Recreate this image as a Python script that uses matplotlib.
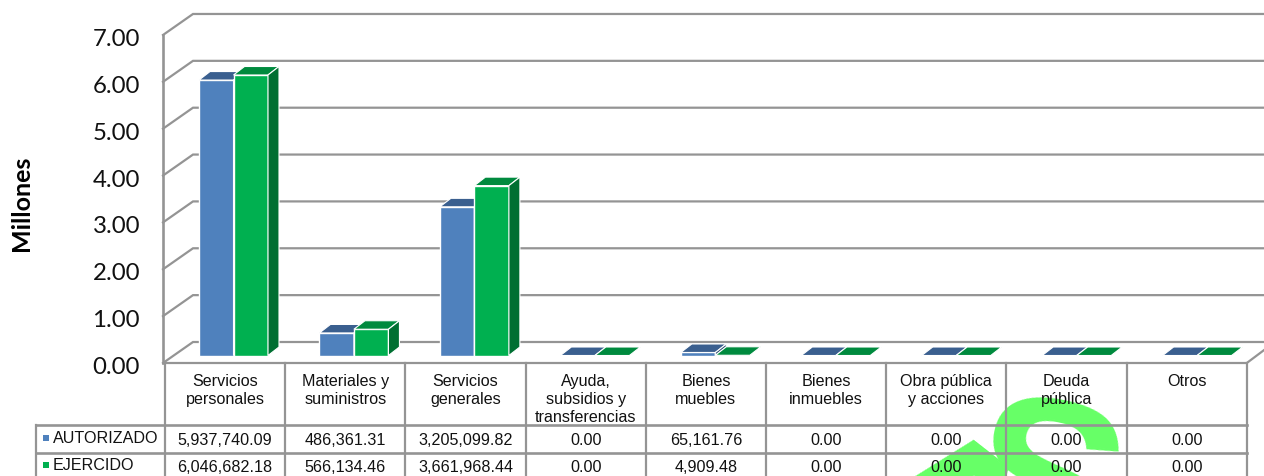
import matplotlib
matplotlib.use("Agg")
import matplotlib.pyplot as plt
from matplotlib.patches import Polygon, Rectangle

categories = ["Servicios\npersonales", "Materiales y\nsuministros", "Servicios\ngenerales",
              "Ayuda,\nsubsidios y\ntransferencias", "Bienes\nmuebles", "Bienes\ninmuebles",
              "Obra pública\ny acciones", "Deuda\npública", "Otros"]
autorizado = [5937740.09, 486361.31, 3205099.82, 0.00, 65161.76, 0.00, 0.00, 0.00, 0.00]
ejercido = [6046682.18, 566134.46, 3661968.44, 0.00, 4909.48, 0.00, 0.00, 0.00, 0.00]
y_ticks = [0, 1, 2, 3, 4, 5, 6, 7]
series_names = ["AUTORIZADO", "EJERCIDO"]

W, H = 1264, 477
PX = 120.2      # px per category
PY = 46.86      # px per million
X0, Y0 = 165, 364
ux, uy = 1 / PX, 1 / PY

fig = plt.figure(figsize=(W / 100, H / 100), dpi=100)
ax = fig.add_axes([0, 0, 1, 1])
ax.set_xlim(-X0 * ux, (W - X0) * ux)
ax.set_ylim(-(H - Y0) * uy, Y0 * uy)
ax.axis("off")

GRID = "#949494"
LW = 1.6
DX, DY = 30 * ux, 21 * uy
xl = -2 * ux

# watermark (behind everything)
wm = dict(color="#66FF66", family="Liberation Sans", fontweight="bold", zorder=0.5,
          ha="center", va="center", clip_on=True)
ax.text((920 - X0) * ux, (Y0 - 546) * uy, "A", rotation=-38, fontsize=190, **wm)
ax.text((1043 - X0) * ux, (Y0 - 500) * uy, "S", rotation=-12, fontsize=165, **wm)

# walls and grid
for v in y_ticks:
    ax.plot([xl, xl + DX, 10], [v, v + DY, v + DY], color=GRID, lw=LW, zorder=1, solid_joinstyle="miter")
ax.plot([xl, xl], [0, 7], color=GRID, lw=LW + 0.3, zorder=1)
ax.plot([0, 9, 9 + 20 * ux], [0, 0, 15 * uy], color=GRID, lw=LW, zorder=1)

# bars
BAR_SCALE = 0.99
BW = 34.5 * ux
OFF = 34 * ux
STEP = 120.45 * ux
BASE = 7.5 * uy
dx, dy = 11 * ux, 8.5 * uy
styles = [("#4F81BD", "#3A5F8F", "#2F4F75"), ("#00B050", "#008A3E", "#006F32")]
for s, vals in enumerate([autorizado, ejercido]):
    face, top, side = styles[s]
    vv = [v / 1e6 * BAR_SCALE for v in vals]
    xs = [OFF + i * STEP + s * BW for i in range(len(vv))]
    ax.bar(xs, vv, width=BW, bottom=BASE, align="edge", color=face, edgecolor="white", lw=1, zorder=3 + s)
    for x, v in zip(xs, vv):
        t = v + BASE
        ax.add_patch(Polygon([(x, t), (x + BW, t), (x + BW + dx, t + dy), (x + dx, t + dy)],
                             fc=top, ec="white", lw=0.8, zorder=3 + s))
        if v > 0.02:
            ax.add_patch(Polygon([(x + BW, BASE), (x + BW + dx, BASE + dy), (x + BW + dx, t + dy), (x + BW, t)],
                                 fc=side, ec="white", lw=0.8, zorder=3 + s))

# y ticks
for v in y_ticks:
    ax.text(-25 * ux, v - 3.5 * uy, f"{v:.2f}", ha="right", va="center", fontsize=17.3,
            family="Lato", color="#111111", zorder=6)
ax.text(-144 * ux, 3.43, "Millones", rotation=90, ha="center", va="center", fontsize=18,
        family="Lato", fontweight="bold", color="black", zorder=6)

# data table
ROW1, ROW2 = -62 * uy, -89.5 * uy
BOTTOM = -(H - Y0 + 5) * uy
LEFT = -129 * ux
for i in range(len(categories) + 1):
    ax.plot([i, i], [0, BOTTOM], color=GRID, lw=LW, zorder=5)
ax.plot([LEFT, 9], [ROW1, ROW1], color=GRID, lw=LW + 0.3, zorder=5)
ax.plot([LEFT, 9], [ROW2, ROW2], color=GRID, lw=LW + 0.3, zorder=5)
ax.plot([LEFT, LEFT], [ROW1, BOTTOM], color=GRID, lw=LW, zorder=5)

FS = 11.6
tx = dict(family="Liberation Sans", color="#111111", zorder=6, fontsize=FS, ha="center")
for i, c in enumerate(categories):
    ax.text(i + 0.5, -10.5 * uy, c, va="top", linespacing=1.22, **tx)
    ax.text(i + 0.5, -77 * uy, f"{autorizado[i]:,.2f}", va="center", **tx)
    ax.text(i + 0.5, -104 * uy, f"{ejercido[i]:,.2f}", va="center", **tx)
for name, y, col in zip(series_names, [-75, -102], ["#4F81BD", "#00B050"]):
    ax.add_patch(Rectangle((-122 * ux, (y - 3) * uy), 6 * ux, 6 * uy, fc=col, ec="none", zorder=6))
    ax.text(-112 * ux, y * uy, name, va="center", ha="left", family="Liberation Sans",
            color="#111111", zorder=6, fontsize=FS)

fig.savefig("out.png", dpi=100)
